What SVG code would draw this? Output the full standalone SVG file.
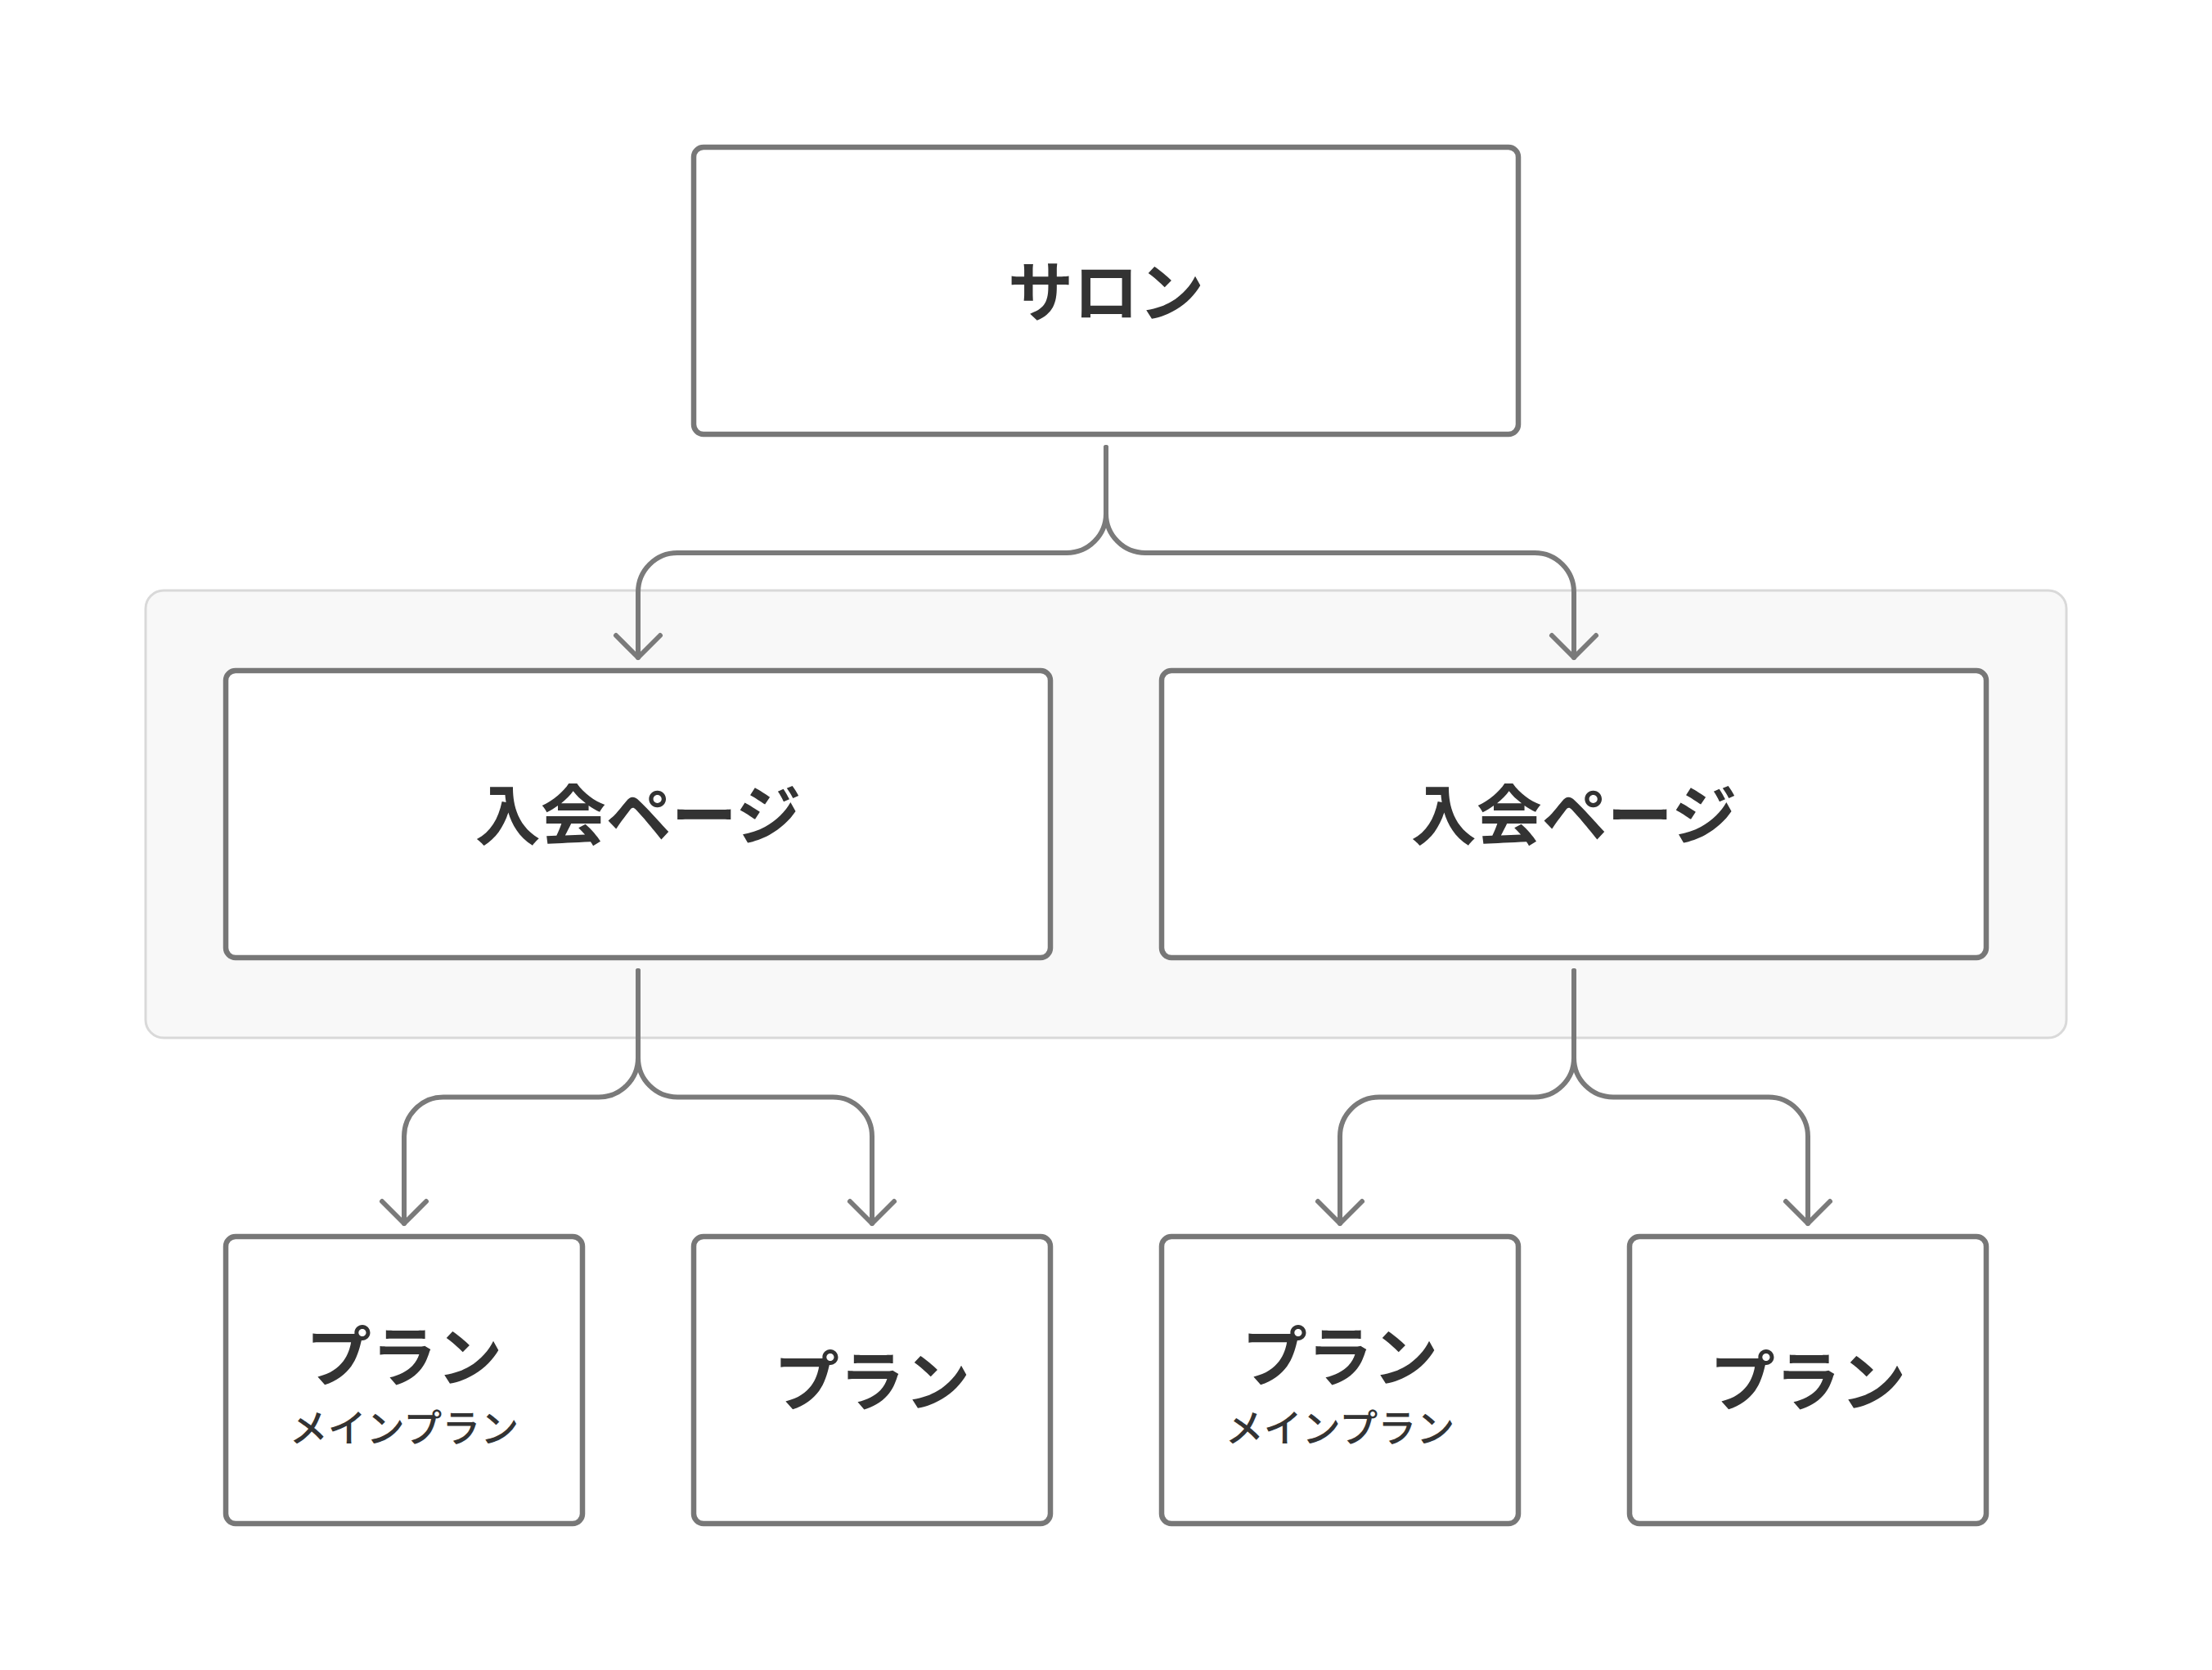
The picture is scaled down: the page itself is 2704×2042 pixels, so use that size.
<svg xmlns="http://www.w3.org/2000/svg" width="2704" height="2042" viewBox="0 0 2704 2042">
<defs>
<style>
.node{fill:#ffffff;stroke:#777777;stroke-width:6.5}
.group{fill:#f8f8f8;stroke:#d9d9d9;stroke-width:3}
.edge{fill:none;stroke:#7a7a7a;stroke-width:6;stroke-linecap:round;stroke-linejoin:round}
.t{font-family:"Noto Sans CJK JP","Noto Sans",sans-serif;font-weight:700;font-size:80px;fill:#333333;text-anchor:middle;dominant-baseline:central}
.s{font-family:"Noto Sans CJK JP","Noto Sans",sans-serif;font-weight:500;font-size:47px;fill:#333333;text-anchor:middle;dominant-baseline:central}
</style>
<marker id="arr" viewBox="-32 -32 36 64" refX="0" refY="0" markerWidth="36" markerHeight="64" markerUnits="userSpaceOnUse" orient="auto" overflow="visible">
<path d="M-27,-27 L0,0 L-27,27" fill="none" stroke="#7a7a7a" stroke-width="6" stroke-linecap="round" stroke-linejoin="round"/>
</marker>
</defs>
<rect width="2704" height="2042" fill="#ffffff"/>
<g id="group-join">
<rect class="group" x="178" y="722" width="2348" height="547" rx="22"/>
</g>
<g id="connectors">
<path class="edge" marker-end="url(#arr)" d="M1352 547 V628 A48 48 0 0 1 1304 676 H828 A48 48 0 0 0 780 724 V804"/>
<path class="edge" marker-end="url(#arr)" d="M1352 547 V628 A48 48 0 0 0 1400 676 H1876 A48 48 0 0 1 1924 724 V804"/>
<path class="edge" marker-end="url(#arr)" d="M780 1187 V1293.5 A48 48 0 0 1 732 1341.5 H542 A48 48 0 0 0 494 1389.5 V1496"/>
<path class="edge" marker-end="url(#arr)" d="M780 1187 V1293.5 A48 48 0 0 0 828 1341.5 H1018 A48 48 0 0 1 1066 1389.5 V1496"/>
<path class="edge" marker-end="url(#arr)" d="M1924 1187 V1293.5 A48 48 0 0 1 1876 1341.5 H1686 A48 48 0 0 0 1638 1389.5 V1496"/>
<path class="edge" marker-end="url(#arr)" d="M1924 1187 V1293.5 A48 48 0 0 0 1972 1341.5 H2162 A48 48 0 0 1 2210 1389.5 V1496"/>
</g>
<g id="salon">
<rect class="node" x="848" y="180" width="1008" height="351" rx="12"/>
<text class="t" x="1352" y="351">サロン</text>
</g>
<g id="join-page-1">
<rect class="node" x="276" y="820" width="1008" height="351" rx="12"/>
<text class="t" x="780" y="991">入会ページ</text>
</g>
<g id="join-page-2">
<rect class="node" x="1420" y="820" width="1008" height="351" rx="12"/>
<text class="t" x="1924" y="991">入会ページ</text>
</g>
<g id="plan-1">
<rect class="node" x="276" y="1512" width="436" height="351" rx="12"/>
<text class="t" x="494" y="1653">プラン</text>
<text class="s" x="494" y="1742">メインプラン</text>
</g>
<g id="plan-2">
<rect class="node" x="848" y="1512" width="436" height="351" rx="12"/>
<text class="t" x="1066" y="1683">プラン</text>
</g>
<g id="plan-3">
<rect class="node" x="1420" y="1512" width="436" height="351" rx="12"/>
<text class="t" x="1638" y="1653">プラン</text>
<text class="s" x="1638" y="1742">メインプラン</text>
</g>
<g id="plan-4">
<rect class="node" x="1992" y="1512" width="436" height="351" rx="12"/>
<text class="t" x="2210" y="1683">プラン</text>
</g>
</svg>
